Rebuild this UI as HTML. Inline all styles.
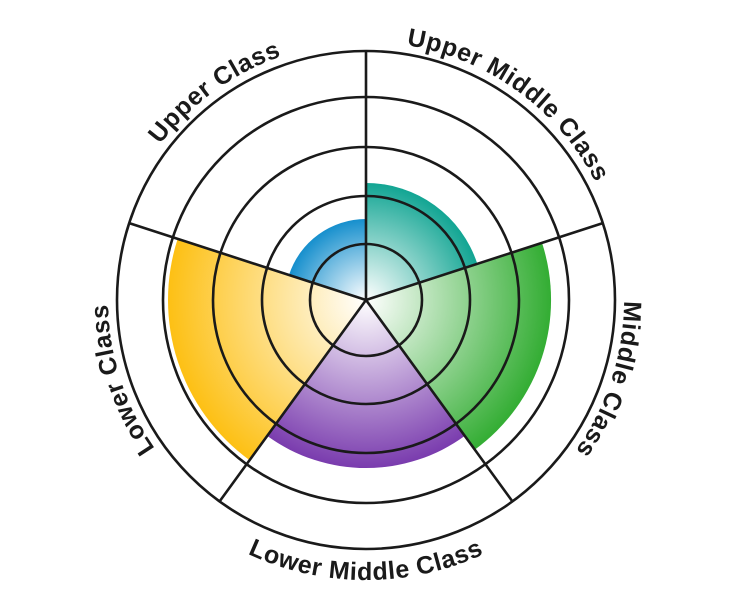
<!DOCTYPE html>
<html><head><style>html,body{margin:0;padding:0;background:#fff}svg{display:block}</style></head>
<body>
<svg width="732" height="600" viewBox="0 0 732 600" xmlns="http://www.w3.org/2000/svg">
<defs>
<radialGradient id="gt" gradientUnits="userSpaceOnUse" cx="366" cy="300" r="117"><stop offset="0" stop-color="#fff"/><stop offset="1" stop-color="#12a593"/></radialGradient>
<radialGradient id="gg" gradientUnits="userSpaceOnUse" cx="366" cy="300" r="185"><stop offset="0" stop-color="#fff"/><stop offset="1" stop-color="#33ad33"/></radialGradient>
<radialGradient id="gp" gradientUnits="userSpaceOnUse" cx="366" cy="300" r="168"><stop offset="0" stop-color="#fff"/><stop offset="1" stop-color="#7a3cae"/></radialGradient>
<radialGradient id="gy" gradientUnits="userSpaceOnUse" cx="366" cy="300" r="198"><stop offset="0" stop-color="#fff"/><stop offset="1" stop-color="#fdc014"/></radialGradient>
<radialGradient id="gb" gradientUnits="userSpaceOnUse" cx="366" cy="300" r="81"><stop offset="0" stop-color="#fff"/><stop offset="1" stop-color="#168fcd"/></radialGradient>
<path id="p1" d="M108.6,282 A258 258 0 0 1 428.4,49.7"/>
<path id="p2" d="M303.6,49.7 A258 258 0 0 1 623.4,282"/>
<path id="p3" d="M584.8,163.3 A258 258 0 0 1 462.6,539.2"/>
<path id="p4" d="M269.4,539.2 A258 258 0 0 1 147.2,163.3"/>
<path id="p5" d="M151.5,480 A280 280 0 0 0 580.5,480"/>
</defs>
<path d="M366,300 L366,183 A117 117 0 0 1 477.3,263.8 Z" fill="url(#gt)"/>
<path d="M366,300 L542,242.8 A185 185 0 0 1 474.7,449.7 Z" fill="url(#gg)"/>
<path d="M366,300 L464.8,435.9 A168 168 0 0 1 267.2,435.9 Z" fill="url(#gp)"/>
<path d="M366,300 L249.6,460.2 A198 198 0 0 1 177.7,238.8 Z" fill="url(#gy)"/>
<path d="M366,300 L289,275 A81 81 0 0 1 366,219 Z" fill="url(#gb)"/>
<g fill="none" stroke="#1a1a1a" stroke-width="2.6">
<circle cx="366" cy="300" r="56"/>
<circle cx="366" cy="300" r="104"/>
<circle cx="366" cy="300" r="153"/>
<circle cx="366" cy="300" r="203"/>
<circle cx="366" cy="300" r="249"/>
<path d="M366,300 L366,51 M366,300 L602.8,223.1 M366,300 L512.4,501.4 M366,300 L219.6,501.4 M366,300 L129.2,223.1"/>
</g>
<g font-family="Liberation Sans, sans-serif" font-weight="bold" font-size="25" letter-spacing="0.6" fill="#1a1a1a" text-anchor="middle">
<text><textPath href="#p1" startOffset="50%">Upper Class</textPath></text>
<text><textPath href="#p2" startOffset="50%">Upper Middle Class</textPath></text>
<text><textPath href="#p3" startOffset="50%">Middle Class</textPath></text>
<text><textPath href="#p4" startOffset="50%">Lower Class</textPath></text>
<text><textPath href="#p5" startOffset="50%">Lower Middle Class</textPath></text>
</g>
</svg>
</body></html>
